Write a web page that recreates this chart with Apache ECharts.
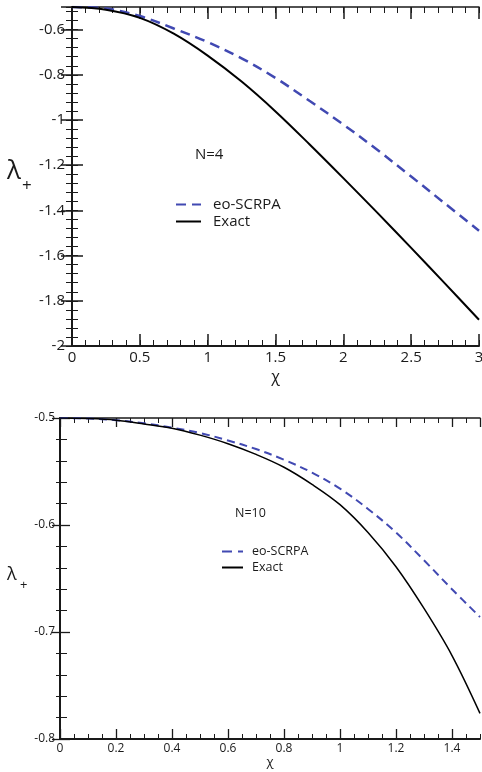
<!DOCTYPE html>
<html><head><meta charset="utf-8">
<script src="https://cdn.jsdelivr.net/npm/echarts@6/dist/echarts.min.js"></script>
<style>html,body{margin:0;padding:0;background:#fff}#c{width:482px;height:772px}</style>
</head><body><div id="c"></div>
<script>
// ---- data: upper panel (N=4) ----
const chiTop      = [0, 0.25, 0.5, 0.75, 1.0, 1.25, 1.5, 1.75, 2.0, 2.25, 2.5, 2.75, 3.0];
const exactTop    = [-0.5, -0.512, -0.548, -0.618, -0.715, -0.83, -0.962, -1.107, -1.257, -1.41, -1.566, -1.724, -1.884];
const scrpaTop    = [-0.5, -0.507, -0.54, -0.595, -0.655, -0.727, -0.814, -0.915, -1.02, -1.132, -1.25, -1.37, -1.49];
// ---- data: lower panel (N=10) ----
const chiBottom   = [0, 0.1, 0.2, 0.3, 0.4, 0.5, 0.6, 0.7, 0.8, 0.9, 1.0, 1.1, 1.2, 1.3, 1.4, 1.5];
const exactBottom = [-0.5, -0.5005, -0.502, -0.5055, -0.5095, -0.516, -0.524, -0.534, -0.546, -0.562, -0.581, -0.607, -0.639, -0.678, -0.722, -0.776];
const scrpaBottom = [-0.5, -0.5005, -0.502, -0.505, -0.509, -0.514, -0.521, -0.529, -0.539, -0.551, -0.566, -0.585, -0.607, -0.633, -0.66, -0.686];
// ---- tick labels ----
const xTicksTop    = [0, 0.5, 1, 1.5, 2, 2.5, 3];
const yTicksTop    = [-2, -1.8, -1.6, -1.4, -1.2, -1, -0.8, -0.6];
const xTicksBottom = [0, 0.2, 0.4, 0.6, 0.8, 1, 1.2, 1.4];
const yTicksBottom = [-0.8, -0.7, -0.6, -0.5];
const seriesNames  = ['eo-SCRPA', 'Exact'];
const panelLabels  = ['N=4', 'N=10'];

const FONT = 'Open Sans';
const BLUE = '#4149b2';
const INK = '#1a1a1a';

function axis(grid, pos, min, max, interval, tickLen, opts) {
  opts = opts || {};
  const a = {
    type: 'value', gridIndex: grid, position: pos, min: min, max: max, interval: interval,
    scale: true,
    axisLine: { show: !!opts.line, lineStyle: { color: INK, width: opts.line || 1 } },
    axisTick: { show: true, inside: true, length: tickLen, lineStyle: { color: INK, width: opts.tickW || 1 } },
    axisLabel: { show: false },
    splitLine: { show: false }
  };
  if (opts.label) {
    a.axisLabel = Object.assign({ show: true, color: INK, fontFamily: FONT }, opts.label);
  }
  if (opts.name) Object.assign(a, opts.name);
  return a;
}

const xTopStep = xTicksTop[1] - xTicksTop[0];
const yTopStep = +(yTicksTop[1] - yTicksTop[0]).toFixed(3);
const xBotStep = +(xTicksBottom[1] - xTicksBottom[0]).toFixed(3);
const yBotStep = +(yTicksBottom[1] - yTicksBottom[0]).toFixed(3);

const xAxes = [
  axis(0, 'bottom', 0, 3, xTopStep, 12, { line: 2, tickW: 1.5,
    label: { fontSize: 15, margin: 4 },
    name: { name: 'χ', nameLocation: 'middle', nameGap: 23, nameTextStyle: { fontSize: 16, fontFamily: FONT, color: INK } } }),
  axis(0, 'bottom', 0, 3, 0.1, 6, {}),
  axis(0, 'top', 0, 3, xTopStep, 12, { line: 1.5, tickW: 1.5 }),
  axis(0, 'top', 0, 3, 0.1, 6, {}),
  axis(1, 'bottom', 0, 1.5, xBotStep, 10, { line: 2, tickW: 1.3,
    label: { fontSize: 12, margin: 4, showMaxLabel: false },
    name: { name: 'χ', nameLocation: 'middle', nameGap: 17, nameTextStyle: { fontSize: 13, fontFamily: FONT, color: INK } } }),
  axis(1, 'bottom', 0, 1.5, 0.05, 5, {}),
  axis(1, 'top', 0, 1.5, xBotStep, 9, { line: 1.5, tickW: 1.3 }),
  axis(1, 'top', 0, 1.5, 0.05, 5, {})
];
const yAxes = [
  axis(0, 'left', -2, -0.5, yTopStep, 11, { line: 2, tickW: 1.5,
    label: { fontSize: 15, margin: 7, showMaxLabel: false } }),
  axis(0, 'left', -2, -0.5, 0.04, 6, {}),
  axis(0, 'right', -2, -0.5, yTopStep, 11, { line: 1.5, tickW: 1.5 }),
  axis(0, 'right', -2, -0.5, 0.04, 6, {}),
  axis(1, 'left', -0.8, -0.5, yBotStep, 10, { line: 2, tickW: 1.3,
    label: { fontSize: 12, margin: 5 } }),
  axis(1, 'left', -0.8, -0.5, 0.02, 7, {}),
  axis(1, 'right', -0.8, -0.5, yBotStep, 8, { line: 1.5, tickW: 1.3 }),
  axis(1, 'right', -0.8, -0.5, 0.02, 4, {})
];

function pairs(xs, ys) { return xs.map((x, i) => [x, ys[i]]); }

const lineSeries = (name, xi, xs, ys, color, width, type) => ({
  type: 'line', name: name, xAxisIndex: xi, yAxisIndex: xi, data: pairs(xs, ys),
  symbol: 'none', showSymbol: false, smooth: 0.35,
  itemStyle: { color: color }, lineStyle: { color: color, width: width, type: type }
});

const option = {
  animation: false,
  backgroundColor: '#fff',
  grid: [
    { left: 72, right: 3, top: 7, height: 339, outerBoundsMode: 'none', containLabel: false },
    { left: 60, right: 2, top: 418, height: 321, outerBoundsMode: 'none', containLabel: false }
  ],
  xAxis: xAxes,
  yAxis: yAxes,
  legend: [
    { data: seriesNames, orient: 'vertical', left: 170, top: 192, itemWidth: 25, itemHeight: 14, itemGap: 2,
      selectedMode: false, itemStyle: { opacity: 0 },
      textStyle: { fontSize: 15, fontFamily: FONT, color: INK, padding: [0, 0, 0, 7] } },
    { data: seriesNames, orient: 'vertical', left: 216, top: 540, itemWidth: 21, itemHeight: 12, itemGap: 3,
      selectedMode: false, itemStyle: { opacity: 0 },
      textStyle: { fontSize: 12.5, fontFamily: FONT, color: INK, padding: [0, 0, 0, 4] } }
  ],
  series: [
    lineSeries(seriesNames[0], 0, chiTop, scrpaTop, BLUE, 2.5, [10, 6]),
    lineSeries(seriesNames[1], 0, chiTop, exactTop, '#000', 2, 'solid'),
    lineSeries(seriesNames[0], 4, chiBottom, scrpaBottom, BLUE, 2, [8, 5]),
    lineSeries(seriesNames[1], 4, chiBottom, exactBottom, '#000', 1.5, 'solid')
  ],
  graphic: [
    { type: 'text', left: 195, top: 147, style: { text: panelLabels[0], fontSize: 15, fontFamily: FONT, fill: INK } },
    { type: 'text', left: 235, top: 507, style: { text: panelLabels[1], fontSize: 12.5, fontFamily: FONT, fill: INK } },
    { type: 'text', left: 7, top: 159, style: { text: 'λ', fontSize: 26, fontFamily: FONT, fill: INK } },
    { type: 'text', left: 22, top: 178, style: { text: '+', fontSize: 17, fontFamily: FONT, fill: INK } },
    { type: 'text', left: 7, top: 566, style: { text: 'λ', fontSize: 18, fontFamily: FONT, fill: INK } },
    { type: 'text', left: 20, top: 579, style: { text: '+', fontSize: 13, fontFamily: FONT, fill: INK } }
  ]
};

const chart = echarts.init(document.getElementById('c'), null, { renderer: 'canvas' });
chart.setOption(option);
</script>
</body></html>
